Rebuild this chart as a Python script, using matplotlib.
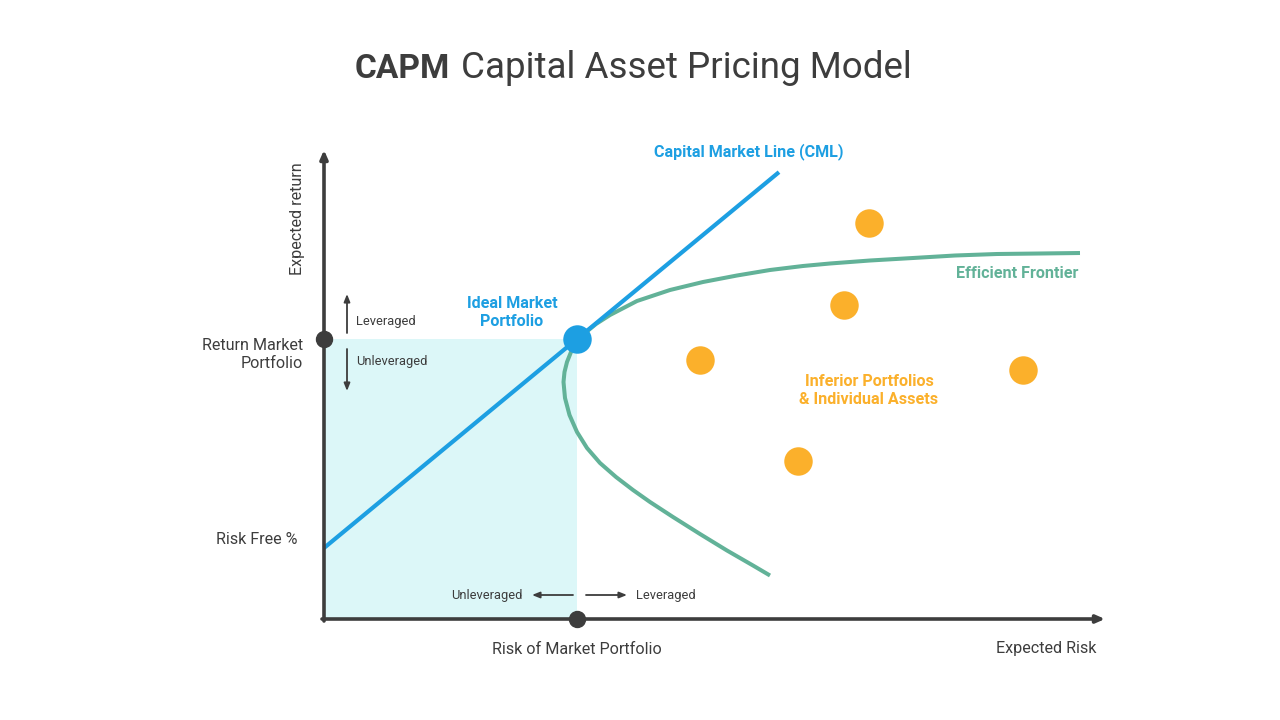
import matplotlib
matplotlib.use("Agg")
import matplotlib.pyplot as plt

plt.rcParams['font.family'] = ['Roboto', 'DejaVu Sans']

# ---------------- data (risk, return in chart units) ----------------
risk_free = 1.42
market_risk = 5.06
market_return = 5.60
cml_end_risk = 9.10

frontier_risk = [8.92, 8.58, 8.06, 7.52, 6.98, 6.52, 6.18, 5.84, 5.52, 5.26, 5.06,
                 4.91, 4.82, 4.79, 4.81, 4.86, 4.94, 5.06, 5.22, 5.44, 5.72, 6.26,
                 6.92, 7.58, 8.26, 8.92, 9.58, 10.12, 10.92, 11.78, 12.62, 13.46,
                 14.32, 15.12]
frontier_return = [0.87, 1.07, 1.37, 1.70, 2.04, 2.34, 2.58, 2.84, 3.12, 3.42, 3.74,
                   4.08, 4.42, 4.74, 4.94, 5.14, 5.34, 5.56, 5.72, 5.90, 6.08, 6.36,
                   6.58, 6.74, 6.87, 6.98, 7.06, 7.11, 7.17, 7.22, 7.27, 7.30,
                   7.31, 7.32]

asset_risk = [10.90, 10.40, 7.52, 13.98, 9.48]
asset_return = [7.92, 6.28, 5.18, 4.98, 3.16]

axis_x_max = 15.62
axis_y_max = 9.38

# ---------------- styles ----------------
DARK = "#3d3d3d"
BLUE = "#1d9fe2"
GREEN = "#62b298"
ORANGE = "#fbb02b"
FILL = "#dcf7f8"

fig = plt.figure(figsize=(12.8, 7.2), dpi=100)
ax = fig.add_axes([0, 0, 1, 1])
ax.set_xlim(-6.48, 19.12)
ax.set_ylim(-2.02, 12.38)
ax.axis("off")

# shaded region under market portfolio
ax.fill_between([0, market_risk], 0, market_return, color=FILL, lw=0, zorder=1)

# capital market line
cml_slope = (market_return - risk_free) / market_risk
ax.plot([0, cml_end_risk], [risk_free, risk_free + cml_slope * cml_end_risk],
        color=BLUE, lw=3.0, solid_capstyle="butt", zorder=3)

# efficient frontier
ax.plot(frontier_risk, frontier_return, color=GREEN, lw=2.9,
        solid_joinstyle="round", solid_capstyle="butt", antialiased=True, zorder=2)

# axes with arrows
ax.annotate("", xy=(0, axis_y_max), xytext=(0, -0.04),
            arrowprops=dict(arrowstyle="-|>,head_length=0.5,head_width=0.22",
                            color=DARK, lw=2.6, shrinkA=0, shrinkB=0), zorder=4)
ax.annotate("", xy=(axis_x_max, 0), xytext=(-0.04, 0),
            arrowprops=dict(arrowstyle="-|>,head_length=0.5,head_width=0.22",
                            color=DARK, lw=2.6, shrinkA=0, shrinkB=0), zorder=4)

# axis dots
ax.plot([0], [market_return], "o", color=DARK, ms=11.5, zorder=5)
ax.plot([market_risk], [0], "o", color=DARK, ms=11.5, zorder=5)

# assets
ax.plot(asset_risk, asset_return, "o", color=ORANGE, ms=20.5, mew=0, zorder=5)

# market portfolio
ax.plot([market_risk], [market_return], "o", color=BLUE, ms=20.5, mew=0, zorder=6)

# small arrows
small = dict(arrowstyle="-|>,head_length=0.45,head_width=0.18", color=DARK, lw=1.3,
             shrinkA=0, shrinkB=0)
ax.annotate("", xy=(0.46, 6.50), xytext=(0.46, 5.72), arrowprops=small)
ax.annotate("", xy=(0.46, 4.56), xytext=(0.46, 5.40), arrowprops=small)
ax.annotate("", xy=(4.16, 0.48), xytext=(4.98, 0.48), arrowprops=small)
ax.annotate("", xy=(6.06, 0.48), xytext=(5.24, 0.48), arrowprops=small)

# texts
fs_small = 9.3
fs_lab = 11.6
ax.text(0.64, 5.96, "Leveraged", fontsize=fs_small, color=DARK, ha="left", va="center")
ax.text(0.64, 5.14, "Unleveraged", fontsize=fs_small, color=DARK, ha="left", va="center")
ax.text(3.96, 0.48, "Unleveraged", fontsize=fs_small, color=DARK, ha="right", va="center")
ax.text(6.24, 0.48, "Leveraged", fontsize=fs_small, color=DARK, ha="left", va="center")

ax.text(-0.42, 5.28, "Return Market\nPortfolio", fontsize=fs_lab, color=DARK,
        ha="right", va="center", multialignment="right", linespacing=1.25)
ax.text(-0.54, 1.58, "Risk Free %", fontsize=fs_lab, color=DARK, ha="right", va="center")
ax.text(-0.54, 8.0, "Expected return", fontsize=fs_lab, color=DARK, ha="center",
        va="center", rotation=90)
ax.text(market_risk, -0.60, "Risk of Market Portfolio", fontsize=fs_lab, color=DARK,
        ha="center", va="center")
ax.text(15.44, -0.60, "Expected Risk", fontsize=fs_lab, color=DARK, ha="right", va="center")

ax.text(8.50, 9.34, "Capital Market Line (CML)", fontsize=fs_lab, color=BLUE,
        fontweight="bold", ha="center", va="center")
ax.text(3.76, 6.14, "Ideal Market\nPortfolio", fontsize=fs_lab, color=BLUE,
        fontweight="bold", ha="center", va="center", linespacing=1.25)
ax.text(15.08, 6.92, "Efficient Frontier", fontsize=fs_lab, color=GREEN,
        fontweight="bold", ha="right", va="center")
ax.text(10.90, 4.56, "Inferior Portfolios\n& Individual Assets", fontsize=fs_lab,
        color=ORANGE, fontweight="bold", ha="center", va="center", linespacing=1.25)

# title: bold "CAPM" followed by regular text on the same baseline
title_y = 1 - 78 / 720
t1 = fig.text(355 / 1280, title_y, "CAPM", fontsize=24, fontweight="bold", color=DARK,
              ha="left", va="baseline")
fig.canvas.draw()
bb = t1.get_window_extent(fig.canvas.get_renderer())
fig.text((bb.x1 + 11) / 1280, title_y, "Capital Asset Pricing Model", fontsize=26.5,
         color=DARK, ha="left", va="baseline")

fig.savefig("out.png", dpi=100)
